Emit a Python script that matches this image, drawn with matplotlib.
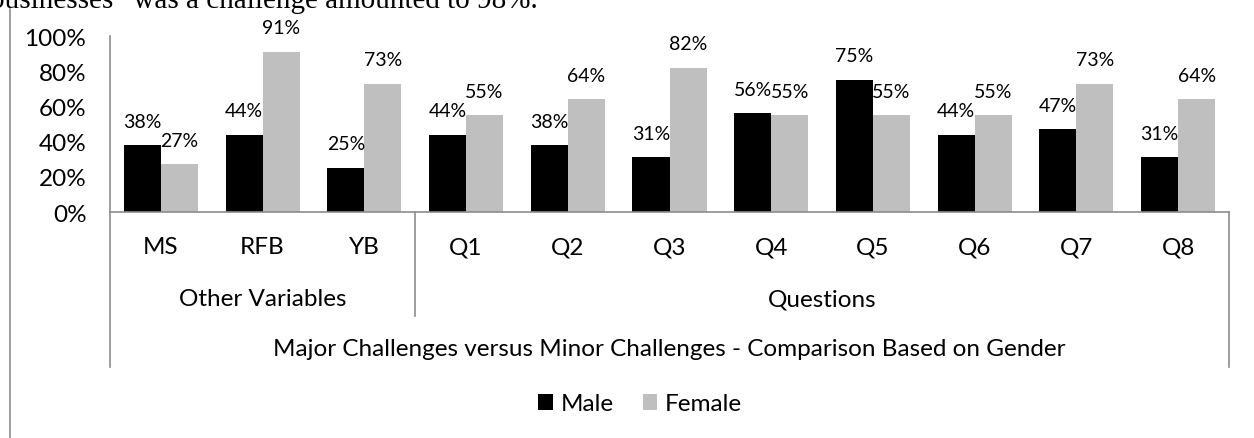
import matplotlib
matplotlib.use("Agg")
import matplotlib.pyplot as plt
from matplotlib.patches import Patch
from matplotlib.lines import Line2D

categories = ["MS", "RFB", "YB", "Q1", "Q2", "Q3", "Q4", "Q5", "Q6", "Q7", "Q8"]
groups = ["Other Variables", "Questions"]
group_sizes = [3, 8]
male = [38, 44, 25, 44, 38, 31, 56, 75, 44, 47, 31]
female = [27, 91, 73, 55, 64, 82, 55, 55, 55, 73, 64]
yticks = [0, 20, 40, 60, 80, 100]
axis_title = "Major Challenges versus Minor Challenges - Comparison Based on Gender"
series_names = ["Male", "Female"]
top_text = 'businesses\u201d was a challenge amounted to 98%.'

plt.rcParams['font.family'] = ['Lato', 'DejaVu Sans']

W, H = 1254, 439
fig = plt.figure(figsize=(W / 100, H / 100), dpi=100)

ax_l, ax_r, ax_t, ax_b = 110, 1229, 37, 213
ax = fig.add_axes([ax_l / W, 1 - ax_b / H, (ax_r - ax_l) / W, (ax_b - ax_t) / H])

grey_line = "#8c8c8c"
black = "#000000"
grey = "#bfbfbf"
big = 17.5
small = 14
bw = 0.364
x = list(range(len(categories)))
xm = [i - bw / 2 for i in x]
xf = [i + bw / 2 for i in x]
ax.bar(xm, male, width=bw, color=black, zorder=2)
ax.bar(xf, female, width=bw, color=grey, zorder=2)

for xi, v in zip(xm, male):
    ax.annotate(f"{v}%", (xi, v), xytext=(0, 17.3), textcoords="offset points",
                ha="center", va="center", fontsize=small)
for xi, v in zip(xf, female):
    ax.annotate(f"{v}%", (xi, v), xytext=(0, 17.3), textcoords="offset points",
                ha="center", va="center", fontsize=small)

ax.set_xlim(-0.5, len(categories) - 0.5)
ax.set_ylim(0, 100)
ax.set_yticks(yticks)
ax.set_yticklabels([f"{t}%" for t in yticks], fontsize=big)
ax.tick_params(axis="y", length=0, pad=17)
ax.set_xticks([])
for s in ["top", "right"]:
    ax.spines[s].set_visible(False)
for s in ["left", "bottom"]:
    ax.spines[s].set_color(grey_line)
    ax.spines[s].set_linewidth(1.2)

trans = ax.get_xaxis_transform()
axh = ax_b - ax_t


def fy(py):
    return (ax_b - py) / axh


for i, c in enumerate(categories):
    ax.text(i, fy(248), c, transform=trans, ha="center", va="center", fontsize=big)

start = 0
for g, n in zip(groups, group_sizes):
    ax.text(start + (n - 1) / 2, fy(300), g, transform=trans, ha="center", va="center", fontsize=big)
    start += n

ax.text((len(categories) - 1) / 2, fy(350), axis_title, transform=trans,
        ha="center", va="center", fontsize=big)

# multi-level axis separator lines
ax.add_line(Line2D([-0.5, -0.5], [0, fy(368)], transform=trans, color=grey_line, lw=1.2, clip_on=False))
ax.add_line(Line2D([len(categories) - 0.5] * 2, [0, fy(368)], transform=trans, color=grey_line, lw=1.2, clip_on=False))
sep = group_sizes[0] - 0.5
ax.add_line(Line2D([sep, sep], [0, fy(317)], transform=trans, color=grey_line, lw=1.2, clip_on=False))

handles = [Patch(facecolor=black, edgecolor="none"), Patch(facecolor=grey, edgecolor="none")]
fig.legend(handles, series_names, loc="center", bbox_to_anchor=(640 / W, 1 - 405 / H),
           ncol=2, frameon=False, fontsize=big, handlelength=0.6, handleheight=0.6,
           handletextpad=0.3, columnspacing=1.2)

# outer chart frame (left edge visible)
fig.add_artist(Line2D([10 / W, 10 / W], [0, 1 - 10 / H], transform=fig.transFigure, color=grey_line, lw=1.2))

# clipped document text above the chart
fig.text(-10 / W, 1 - 7.5 / H, top_text, fontsize=21, family="Liberation Serif",
         ha="left", va="baseline")

fig.savefig("out.png", dpi=100)
